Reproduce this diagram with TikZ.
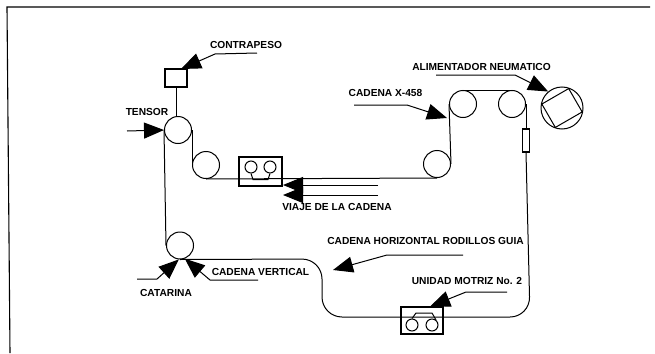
\documentclass[tikz,border=0pt]{standalone}
\usepackage{fontspec}
\setmainfont{Liberation Sans}
\usetikzlibrary{positioning,arrows.meta,calc}

\begin{document}
\begin{tikzpicture}[
          x=1pt, y=-1pt,
          polea/.style={draw, circle, inner sep=0pt, minimum size=27pt, line width=1pt},
          caja/.style={draw, inner sep=0pt, line width=1.1pt},
          cadena/.style={line width=1pt},
          etiqueta/.style={inner sep=0pt, font=\bfseries\fontsize{10.2}{12}\selectfont},
          flecha/.style={-{Triangle[length=20pt, width=16pt]}, line width=1pt},
          motorcito/.style={draw, circle, inner sep=0pt, minimum size=12pt, line width=1pt}
      ]
        \useasboundingbox (0,0) rectangle (655,353);
        % marco
        \coordinate (marco1) at (650,7);
        \coordinate (marco2) at (7,7);
        \coordinate (marco3) at (10,353);
        \draw[line width=1.1pt] (marco1) -- (marco2) -- (marco3);

        % poleas
        \node[polea] (tensor) at (178,130) {};
        \node[polea] (guia) at (206,165) {};
        \node[polea] (rodillo) at (437,164) {};
        \node[polea] (superior) at (463,104) {};
        \node[polea] (derecha) at (512,104) {};
        \node[polea] (catarina) at (180,245.5) {};
        \node[caja, minimum width=22pt, minimum height=18pt] (contrapeso) at (176,78) {};
        \node[caja, minimum width=7pt, minimum height=23pt] (eslabon) at (526,140.5) {};
        \node[caja, minimum width=43pt, minimum height=29pt] (motoruno) at (260.5,171.5) {};
        \node[caja, minimum width=42pt, minimum height=27pt] (motordos) at (422,320.5) {};

        % alimentador
        \node[polea, minimum size=42pt] (alimentador) at (562,108) {};
        \node[caja, line width=1pt, rotate=30, minimum width=31pt, minimum height=27pt] (cuadro) at (562,108) {};

        % motores
        \node[motorcito] (m1a) at (251,167) {};
        \node[motorcito] (m1b) at (270,167) {};
        \draw[cadena] (m1a.south) -- (253,179.5) -- (268,179.5) -- (m1b.south);
        \node[motorcito] (m2a) at (412,325) {};
        \node[motorcito] (m2b) at (432,325) {};
        \draw[cadena] (m2a.north) -- (416,313) -- (432,313) -- (436,320);

        % cadena
        \coordinate (esq1) at (530,317);
        \coordinate (esq2) at (322,317);
        \coordinate (esq3) at (322,259);
        \draw[cadena] (contrapeso.south) -- (contrapeso.south |- tensor.north);
        \draw[cadena] (tensor.east) -- (guia.west);
        \draw[cadena] (guia.south) -- (rodillo.south);
        \draw[cadena] (rodillo.east) -- (superior.west);
        \draw[cadena] (superior.north) -- (derecha.north);
        \draw[cadena] (derecha.east) -- (eslabon.north);
        \draw[cadena, rounded corners=20pt] (eslabon.south) -- (esq1) -- (esq2) -- (esq3) -- (catarina.south);
        \draw[cadena] (catarina.west) -- (tensor.west);

        % etiquetas
        \node[etiqueta] (lcontrapeso) at (246,45) {CONTRAPESO};
        \node[etiqueta] (ltensor) at (147,112) {TENSOR};
        \node[etiqueta] (lcadena) at (385.5,93) {CADENA X-458};
        \node[etiqueta] (lalimentador) at (481.5,67) {ALIMENTADOR NEUMATICO};
        \node[etiqueta] (lviaje) at (337,207) {VIAJE DE LA CADENA};
        \node[etiqueta] (lhorizontal) at (425.5,241) {CADENA HORIZONTAL RODILLOS GUIA};
        \node[etiqueta] (lunidad) at (467,281) {UNIDAD MOTRIZ No. 2};
        \node[etiqueta] (lvertical) at (260.5,272) {CADENA VERTICAL};
        \node[etiqueta] (lcatarina) at (166,293) {CATARINA};

        % flechas
        \coordinate (c1) at (257,53);
        \coordinate (c1b) at (181,69);
        \coordinate (c2) at (127,131);
        \coordinate (c3) at (354,105);
        \coordinate (c3b) at (447,118);
        \coordinate (c4) at (436,75);
        \coordinate (c5) at (258,280);
        \coordinate (c6) at (137,279);
        \coordinate (c7) at (463,255);
        \coordinate (c7b) at (333,270);
        \coordinate (c8) at (507,292);
        \coordinate (v1) at (378,185);
        \coordinate (v1b) at (283,185);
        \coordinate (v2) at (378,195);
        \coordinate (v2b) at (283,195);
        \draw[flecha] (c1) -- (215,54) -- (c1b);
        \draw[flecha] (c2) -- (tensor.west);
        \draw[flecha] (c3) -- (407,105) -- (c3b);
        \draw[flecha] (c4) -- (515,75) -- (alimentador.130);
        \draw[flecha] (c5) -- (210,280) -- (catarina.-70);
        \draw[flecha] (c6) -- (157,279) -- (catarina.-95);
        \draw[flecha] (c7) -- (387,255) -- (c7b);
        \draw[flecha] (c8) -- (466,292) -- (motordos.60);
        \draw[flecha] (v1) -- (v1b);
        \draw[flecha] (v2) -- (v2b);
      \end{tikzpicture}
\end{document}
